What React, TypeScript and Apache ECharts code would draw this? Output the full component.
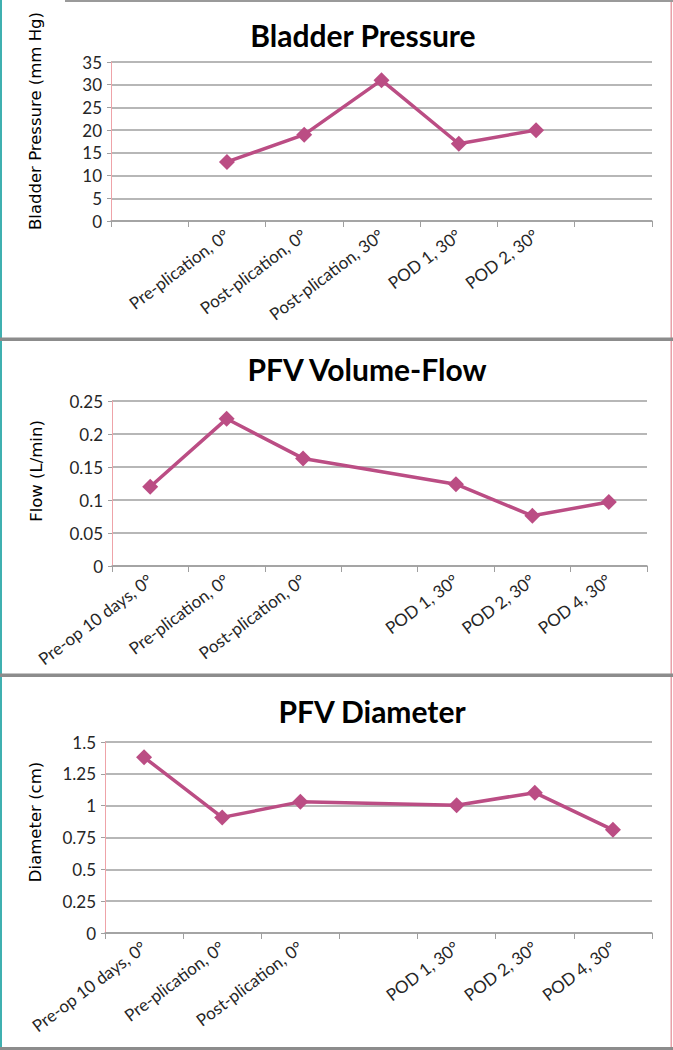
import React, { useEffect, useRef } from "react";
import * as echarts from "echarts";

const bladderCategories = [" ", "Pre-plication, 0°", "Post-plication, 0°", "Post-plication, 30°", "POD 1, 30°", "POD 2, 30°", "  "];
const bladderValues = [null, 13, 19, 31, 17, 20, null];

const pfvCategories = ["Pre-op 10 days, 0°", "Pre-plication, 0°", "Post-plication, 0°", " ", "POD 1, 30°", "POD 2, 30°", "POD 4, 30°"];
const flowValues = [0.12, 0.223, 0.163, null, 0.124, 0.076, 0.097];
const diameterValues = [1.38, 0.908, 1.03, null, 1.004, 1.102, 0.81];

const titles = ["Bladder Pressure", "PFV Volume-Flow", "PFV Diameter"];
const yNames = ["Bladder Pressure (mm Hg)", "Flow (L/min)", "Diameter (cm)"];

const LINE = "#bb4d84";
const GRIDC = "#9f9f9f";
const TXT = "#262626";

export default function App() {
  const ref = useRef<HTMLDivElement>(null);
  useEffect(() => {
    document.body.style.margin = "0";
    const chart = echarts.init(ref.current!, null, { renderer: "svg" });
    const grids = [
      { left: 111, top: 62, width: 541, height: 159 },
      { left: 112, top: 401, width: 535, height: 165 },
      { left: 105, top: 742, width: 547, height: 191 },
    ];
    const yCfg = [
      { min: 0, max: 35, interval: 5 },
      { min: 0, max: 0.25, interval: 0.05 },
      { min: 0, max: 1.5, interval: 0.25 },
    ];
    const cats = [bladderCategories, pfvCategories, pfvCategories];
    const vals = [bladderValues, flowValues, diameterValues];
    const titlePos = [
      { x: 363, y: 35 },
      { x: 367, y: 369 },
      { x: 372, y: 711 },
    ];
    const namePos = [
      { x: 35, y: 121 },
      { x: 36, y: 471 },
      { x: 35, y: 822 },
    ];

    const graphics: any[] = [
      { type: "rect", shape: { x: 0, y: 0, width: 2, height: 1050 }, style: { fill: "#3fb0b0" } },
      { type: "rect", shape: { x: 670.5, y: 0, width: 1.5, height: 1050 }, style: { fill: "#e8a0a8" } },
      { type: "rect", shape: { x: 65, y: 0, width: 608, height: 2 }, style: { fill: "#9a9a9a" } },
      { type: "rect", shape: { x: 0, y: 337.5, width: 673, height: 3.5 }, style: { fill: "#8c8c8c" } },
      { type: "rect", shape: { x: 0, y: 673.5, width: 673, height: 3.5 }, style: { fill: "#8c8c8c" } },
      { type: "rect", shape: { x: 0, y: 1047, width: 673, height: 3 }, style: { fill: "#8c8c8c" } },
    ];
    titles.forEach((t, i) => {
      graphics.push({
        type: "text",
        x: titlePos[i].x,
        y: titlePos[i].y,
        style: {
          text: t,
          fill: "#000",
          font: "bold 30px Lato",
          textAlign: "center",
          textVerticalAlign: "middle",
        },
      });
    });
    yNames.forEach((t, i) => {
      graphics.push({
        type: "text",
        x: namePos[i].x,
        y: namePos[i].y,
        rotation: Math.PI / 2,
        style: {
          text: t,
          fill: "#000",
          font: "16.5px 'DejaVu Sans'",
          textAlign: "center",
          textVerticalAlign: "middle",
        },
      });
    });

    chart.setOption({
      animation: false,
      backgroundColor: "#fff",
      grid: grids.map((g) => ({ ...g, containLabel: false })),
      xAxis: cats.map((c, i) => ({
        type: "category",
        gridIndex: i,
        data: c,
        boundaryGap: true,
        axisLine: { show: true, lineStyle: { color: GRIDC, width: 1.5 } },
        axisTick: { show: true, alignWithLabel: false, length: 6, lineStyle: { color: GRIDC, width: 1 } },
        axisLabel: {
          interval: 0,
          rotate: 37,
          color: TXT,
          fontFamily: "Lato",
          fontSize: 17,
          margin: 12,
        },
        splitLine: { show: false },
      })),
      yAxis: yCfg.map((y, i) => ({
        type: "value",
        gridIndex: i,
        min: y.min,
        max: y.max,
        interval: y.interval,
        axisLine: { show: true, lineStyle: { color: "#eea3a8", width: 1 } },
        axisTick: { show: true, length: 4, lineStyle: { color: GRIDC } },
        axisLabel: { color: TXT, fontFamily: "Lato", fontSize: 17, margin: 9 },
        splitLine: { show: true, lineStyle: { color: GRIDC, width: 1.5 } },
      })),
      series: vals.map((v, i) => ({
        type: "line",
        xAxisIndex: i,
        yAxisIndex: i,
        data: v,
        connectNulls: true,
        symbol: "diamond",
        symbolSize: 16,
        lineStyle: { color: LINE, width: 3.5 },
        itemStyle: { color: LINE },
      })),
      graphic: graphics,
    });
    return () => chart.dispose();
  }, []);
  return <div ref={ref} style={{ position: "absolute", left: 0, top: 0, width: 673, height: 1050 }} />;
}
